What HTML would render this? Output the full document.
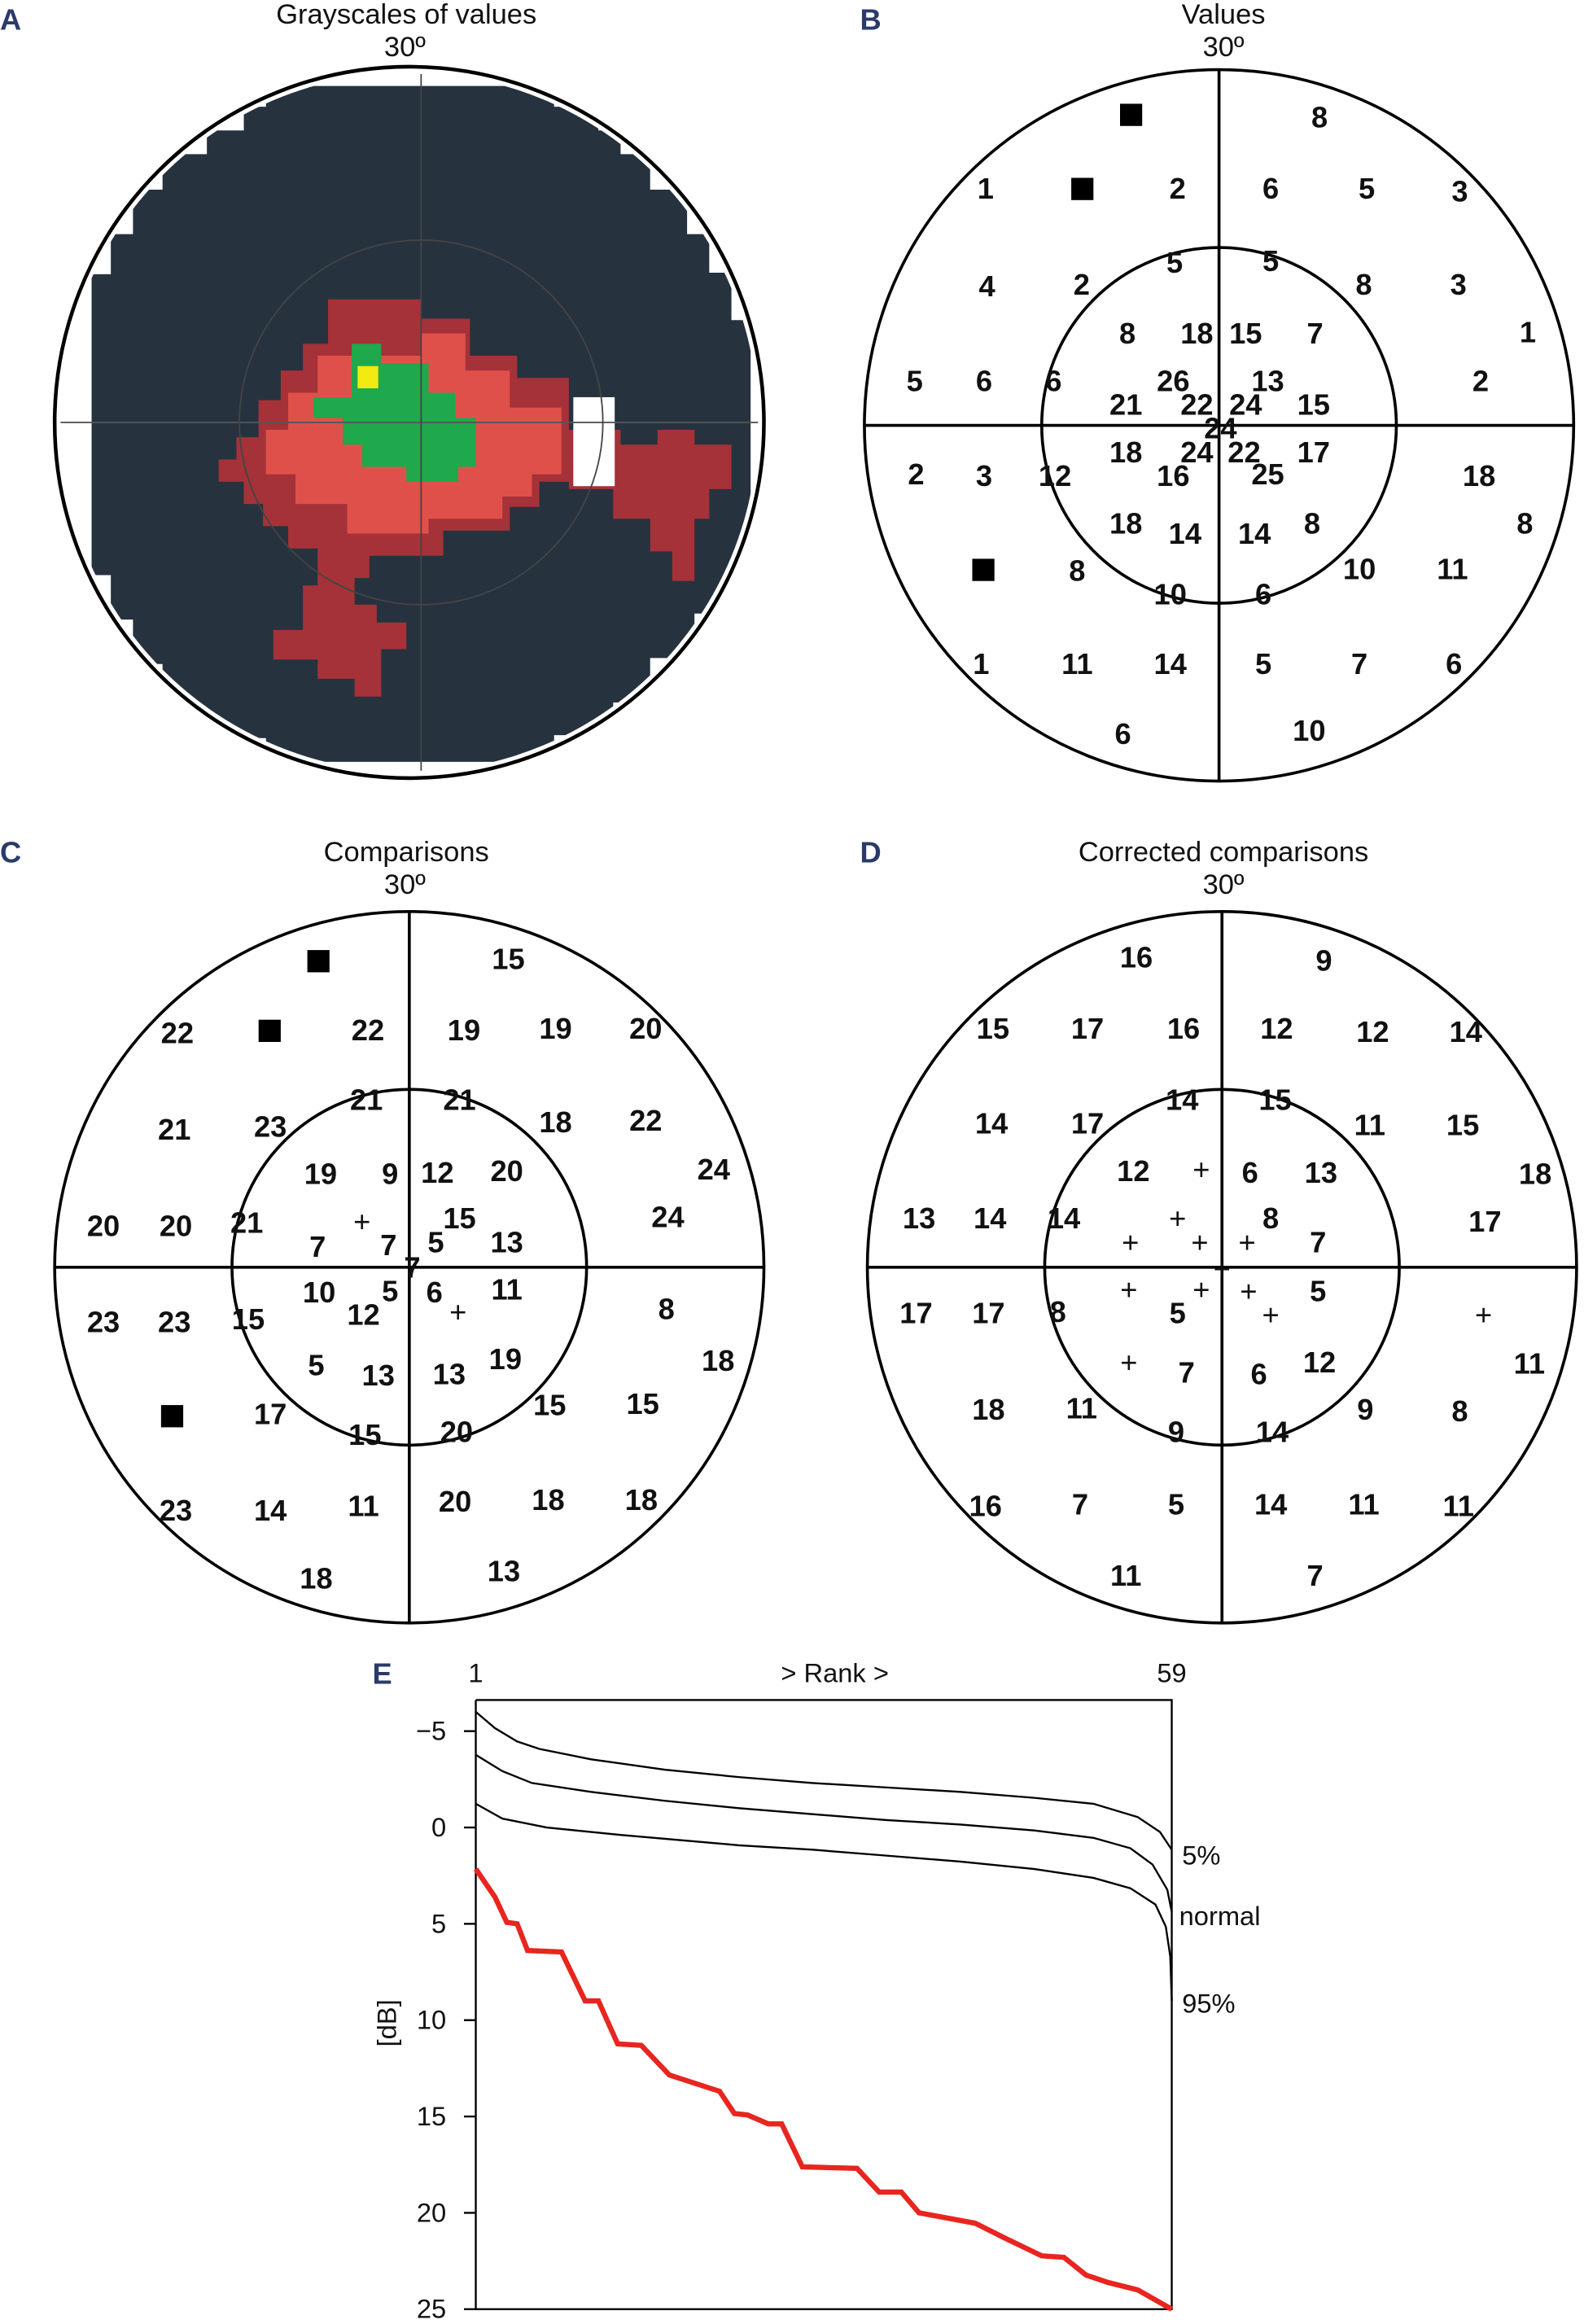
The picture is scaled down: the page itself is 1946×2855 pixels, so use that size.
<!DOCTYPE html>
<html><head><meta charset="utf-8"><style>
html,body{margin:0;padding:0;background:#fff;}
svg{display:block;}
.n{font-family:"Liberation Sans Narrow","Liberation Sans",sans-serif;font-weight:bold;font-size:20px;text-anchor:middle;dominant-baseline:central;fill:#111;}
.t{font-family:"Liberation Sans Narrow","Liberation Sans",sans-serif;font-size:19px;text-anchor:middle;fill:#111;}
.L{font-family:"Liberation Sans Narrow","Liberation Sans",sans-serif;font-weight:bold;font-size:20px;fill:#2a3a6a;}
.ax{font-family:"Liberation Sans Narrow","Liberation Sans",sans-serif;font-size:18px;fill:#111;}
</style></head><body>
<svg width="1946" height="2855" viewBox="0 0 1072 1568" preserveAspectRatio="none" xmlns="http://www.w3.org/2000/svg">
<rect width="1072" height="1573" fill="#fff"/>
<text class="L" x="0" y="20">A</text>
<text class="L" x="582" y="20">B</text>
<text class="L" x="0" y="582">C</text>
<text class="L" x="582" y="582">D</text>
<text class="L" x="252" y="1136">E</text>
<text class="t" x="275" y="16">Grayscales of values</text>
<text class="t" x="274" y="38">30º</text>
<text class="t" x="828" y="16">Values</text>
<text class="t" x="828" y="38">30º</text>
<text class="t" x="275" y="581">Comparisons</text>
<text class="t" x="274" y="603">30º</text>
<text class="t" x="828" y="581">Corrected comparisons</text>
<text class="t" x="828" y="603">30º</text>

<defs><clipPath id="ca"><circle cx="277" cy="285" r="236"/></clipPath></defs>
<g clip-path="url(#ca)">
<polygon fill="#27323f" points="180,58 375,58 375,72 405,72 405,88 420,88 420,104 440,104 440,128 465,128 465,158 480,158 480,184 495,184 495,216 508,216 508,380 495,380 495,414 470,414 470,444 440,444 440,474 415,474 415,496 375,496 375,514 180,514 180,498 140,498 140,478 110,478 110,448 90,448 90,418 75,418 75,388 62,388 62,185 75,185 75,158 90,158 90,128 110,128 110,104 140,104 140,88 165,88 165,72 180,72"/>
<polygon fill="#a53238" points="222,202 285,202 285,215 318,215 318,240 350,240 350,255 385,255 385,290 420,290 420,300 445,300 445,290 470,290 470,300 495,300 495,330 480,330 480,350 470,350 470,392 455,392 455,372 440,372 440,350 415,350 415,330 385,330 385,325 365,325 365,342 345,342 345,358 300,358 300,375 250,375 250,390 240,390 240,408 255,408 255,420 275,420 275,438 258,438 258,470 240,470 240,458 215,458 215,445 185,445 185,425 205,425 205,395 215,395 215,370 195,370 195,355 178,355 178,340 165,340 165,325 148,325 148,310 160,310 160,295 175,295 175,270 190,270 190,250 205,250 205,232 222,232"/>
<polygon fill="#e0504a" points="215,240 285,240 285,225 315,225 315,250 345,250 345,275 380,275 380,320 360,320 360,335 340,335 340,350 290,350 290,360 235,360 235,340 200,340 200,320 180,320 180,290 195,290 195,265 215,265"/>
<polygon fill="#1fa84c" points="238,232 258,232 258,245 290,245 290,265 308,265 308,282 322,282 322,315 310,315 310,325 275,325 275,315 245,315 245,300 232,300 232,282 212,282 212,268 238,268"/>
<rect x="242" y="247" width="14" height="15" fill="#f2ea10"/>
<rect x="388" y="268" width="28" height="60" fill="#fff"/>
<line x1="40" y1="285" x2="515" y2="285" stroke="#555" stroke-width="1"/>
<line x1="285" y1="50" x2="285" y2="520" stroke="#444" stroke-width="1"/>
<circle cx="285" cy="285" r="123" fill="none" stroke="#444" stroke-width="1"/>
</g>
<circle cx="277" cy="285" r="240" fill="none" stroke="#000" stroke-width="2.5"/>

<g fill="none" stroke="#000" stroke-width="2">
<circle cx="825" cy="287" r="240"/><circle cx="825" cy="287" r="120"/>
<line x1="585" y1="287" x2="1065" y2="287"/><line x1="825" y1="47" x2="825" y2="527"/>
<circle cx="277" cy="855" r="240"/><circle cx="277" cy="855" r="120"/>
<line x1="37" y1="855" x2="517" y2="855"/><line x1="277" y1="615" x2="277" y2="1095"/>
<circle cx="827" cy="855" r="240"/><circle cx="827" cy="855" r="120"/>
<line x1="587" y1="855" x2="1067" y2="855"/><line x1="827" y1="615" x2="827" y2="1095"/>
</g>
<g fill="#000">
<rect x="758" y="70" width="15" height="15"/><rect x="725" y="120" width="15" height="15"/><rect x="658" y="377" width="15" height="15"/>
<rect x="208" y="641" width="15" height="15"/><rect x="175" y="688" width="15" height="15"/><rect x="109" y="948" width="15" height="15"/>
</g>
<g class="n">
<text x="893" y="79">8</text><text x="667" y="127">1</text><text x="797" y="127">2</text><text x="860" y="127">6</text><text x="925" y="127">5</text><text x="988" y="129">3</text>
<text x="668" y="193">4</text><text x="732" y="192">2</text><text x="795" y="177">5</text><text x="860" y="176">5</text><text x="923" y="192">8</text><text x="987" y="192">3</text><text x="1034" y="224">1</text>
<text x="763" y="225">8</text><text x="810" y="225">18</text><text x="843" y="225">15</text><text x="890" y="225">7</text>
<text x="619" y="257">5</text><text x="666" y="257">6</text><text x="713" y="257">6</text><text x="794" y="257">26</text><text x="858" y="257">13</text><text x="889" y="273">15</text><text x="1002" y="257">2</text>
<text x="762" y="273">21</text><text x="810" y="273">22</text><text x="843" y="273">24</text><text x="826" y="289">24</text>
<text x="620" y="320">2</text><text x="666" y="321">3</text><text x="714" y="321">12</text><text x="762" y="305">18</text><text x="810" y="305">24</text><text x="842" y="305">22</text><text x="889" y="305">17</text>
<text x="794" y="321">16</text><text x="858" y="320">25</text><text x="1001" y="321">18</text><text x="1032" y="353">8</text>
<text x="762" y="353">18</text><text x="802" y="360">14</text><text x="849" y="360">14</text><text x="888" y="353">8</text><text x="920" y="384">10</text><text x="983" y="384">11</text>
<text x="729" y="385">8</text><text x="792" y="401">10</text><text x="855" y="401">6</text>
<text x="664" y="448">1</text><text x="729" y="448">11</text><text x="792" y="448">14</text><text x="855" y="448">5</text><text x="920" y="448">7</text><text x="984" y="448">6</text>
<text x="760" y="495">6</text><text x="886" y="493">10</text>

<text x="344" y="647">15</text><text x="120" y="697">22</text><text x="249" y="695">22</text><text x="314" y="695">19</text><text x="376" y="694">19</text><text x="437" y="694">20</text>
<text x="118" y="762">21</text><text x="183" y="760">23</text><text x="248" y="742">21</text><text x="311" y="742">21</text><text x="376" y="757">18</text><text x="437" y="756">22</text><text x="483" y="789">24</text>
<text x="217" y="792">19</text><text x="264" y="792">9</text><text x="296" y="791">12</text><text x="343" y="790">20</text><text x="452" y="821">24</text>
<text x="70" y="827">20</text><text x="119" y="827">20</text><text x="167" y="825">21</text><text x="215" y="841">7</text><text x="245" y="824" font-weight="normal">+</text><text x="263" y="840">7</text><text x="295" y="838">5</text><text x="311" y="822">15</text><text x="343" y="838">13</text><text x="279" y="855">7</text>
<text x="216" y="872">10</text><text x="246" y="887">12</text><text x="264" y="871">5</text><text x="294" y="872">6</text><text x="310" y="885" font-weight="normal">+</text><text x="343" y="870">11</text><text x="451" y="883">8</text>
<text x="70" y="892">23</text><text x="118" y="892">23</text><text x="168" y="890">15</text><text x="214" y="921">5</text><text x="256" y="928">13</text><text x="304" y="927">13</text><text x="342" y="917">19</text><text x="486" y="918">18</text>
<text x="183" y="954">17</text><text x="247" y="968">15</text><text x="309" y="966">20</text><text x="372" y="948">15</text><text x="435" y="947">15</text>
<text x="119" y="1019">23</text><text x="183" y="1019">14</text><text x="246" y="1016">11</text><text x="308" y="1013">20</text><text x="371" y="1012">18</text><text x="434" y="1012">18</text>
<text x="214" y="1065">18</text><text x="341" y="1060">13</text>

<text x="769" y="646">16</text><text x="896" y="648">9</text><text x="672" y="694">15</text><text x="736" y="694">17</text><text x="801" y="694">16</text><text x="864" y="694">12</text><text x="929" y="696">12</text><text x="992" y="696">14</text>
<text x="671" y="758">14</text><text x="736" y="758">17</text><text x="800" y="742">14</text><text x="863" y="742">15</text><text x="927" y="759">11</text><text x="990" y="759">15</text><text x="1039" y="792">18</text>
<text x="767" y="790">12</text><text x="846" y="791">6</text><text x="894" y="791">13</text>
<text x="622" y="822">13</text><text x="670" y="822">14</text><text x="720" y="822">14</text><text x="860" y="822">8</text><text x="1005" y="824">17</text>
<text x="892" y="838">7</text>
<text x="620" y="886">17</text><text x="669" y="886">17</text><text x="716" y="885">8</text><text x="797" y="886">5</text><text x="892" y="871">5</text>
<text x="1035" y="920">11</text><text x="669" y="951">18</text><text x="732" y="950">11</text><text x="803" y="926">7</text><text x="852" y="927">6</text><text x="893" y="919">12</text><text x="924" y="951">9</text><text x="988" y="952">8</text>
<text x="796" y="966">9</text><text x="861" y="966">14</text>
<text x="667" y="1016">16</text><text x="731" y="1015">7</text><text x="796" y="1015">5</text><text x="860" y="1015">14</text><text x="923" y="1015">11</text><text x="987" y="1016">11</text>
<text x="762" y="1063">11</text><text x="890" y="1063">7</text>
</g>
<g class="n" style="font-weight:normal">
<text x="813" y="789">+</text><text x="797" y="822">+</text><text x="765" y="838">+</text><text x="812" y="838">+</text><text x="844" y="838">+</text><text x="827" y="856">+</text>
<text x="764" y="870">+</text><text x="813" y="870">+</text><text x="845" y="871">+</text><text x="860" y="887">+</text><text x="1004" y="887">+</text><text x="764" y="919">+</text>
</g>

<text class="ax" x="322" y="1135" text-anchor="middle">1</text>
<text class="ax" x="565" y="1135" text-anchor="middle">&gt; Rank &gt;</text>
<text class="ax" x="793" y="1135" text-anchor="middle">59</text>
<g fill="none" stroke="#000" stroke-width="1.3">
<polyline points="322,1147 793,1147 793,1558 322,1558 322,1147"/>
<line x1="314" y1="1168" x2="322" y2="1168"/><line x1="314" y1="1233" x2="322" y2="1233"/><line x1="314" y1="1298" x2="322" y2="1298"/><line x1="314" y1="1363" x2="322" y2="1363"/><line x1="314" y1="1428" x2="322" y2="1428"/><line x1="314" y1="1493" x2="322" y2="1493"/><line x1="314" y1="1558" x2="322" y2="1558"/>
<polyline points="322,1155 335,1166 350,1175 365,1180 400,1187 450,1194 500,1199 550,1203 600,1206 650,1209 700,1213 740,1217 770,1226 785,1236 793,1248"/>
<polyline points="322,1184 340,1195 360,1203 400,1209 450,1215 500,1220 550,1224 600,1228 650,1231 700,1235 740,1240 765,1247 780,1258 790,1275 793,1290"/>
<polyline points="322,1217 340,1227 370,1233 420,1238 500,1245 550,1248 600,1252 650,1256 700,1261 740,1267 765,1274 782,1285 789,1300 792,1320 793,1350"/>
</g>
<polyline fill="none" stroke="#e8251f" stroke-width="3.5" points="322,1261 335,1280 343,1297 350,1298 357,1316 380,1317 396,1350 405,1350 418,1379 434,1380 453,1400 487,1411 497,1426 506,1427 520,1433 529,1433 543,1462 580,1463 595,1479 610,1479 622,1493 660,1500 680,1510 705,1522 720,1523 735,1535 750,1540 770,1545 793,1558"/>
<g class="ax" text-anchor="end">
<text x="302" y="1174">−5</text><text x="302" y="1239">0</text><text x="302" y="1304">5</text><text x="302" y="1369">10</text><text x="302" y="1434">15</text><text x="302" y="1499">20</text><text x="302" y="1564">25</text>
</g>
<text class="ax" x="0" y="0" transform="translate(268,1365) rotate(-90)" text-anchor="middle">[dB]</text>
<text class="ax" x="800" y="1258">5%</text>
<text class="ax" x="798" y="1299">normal</text>
<text class="ax" x="800" y="1358">95%</text>
</svg>
</body></html>
